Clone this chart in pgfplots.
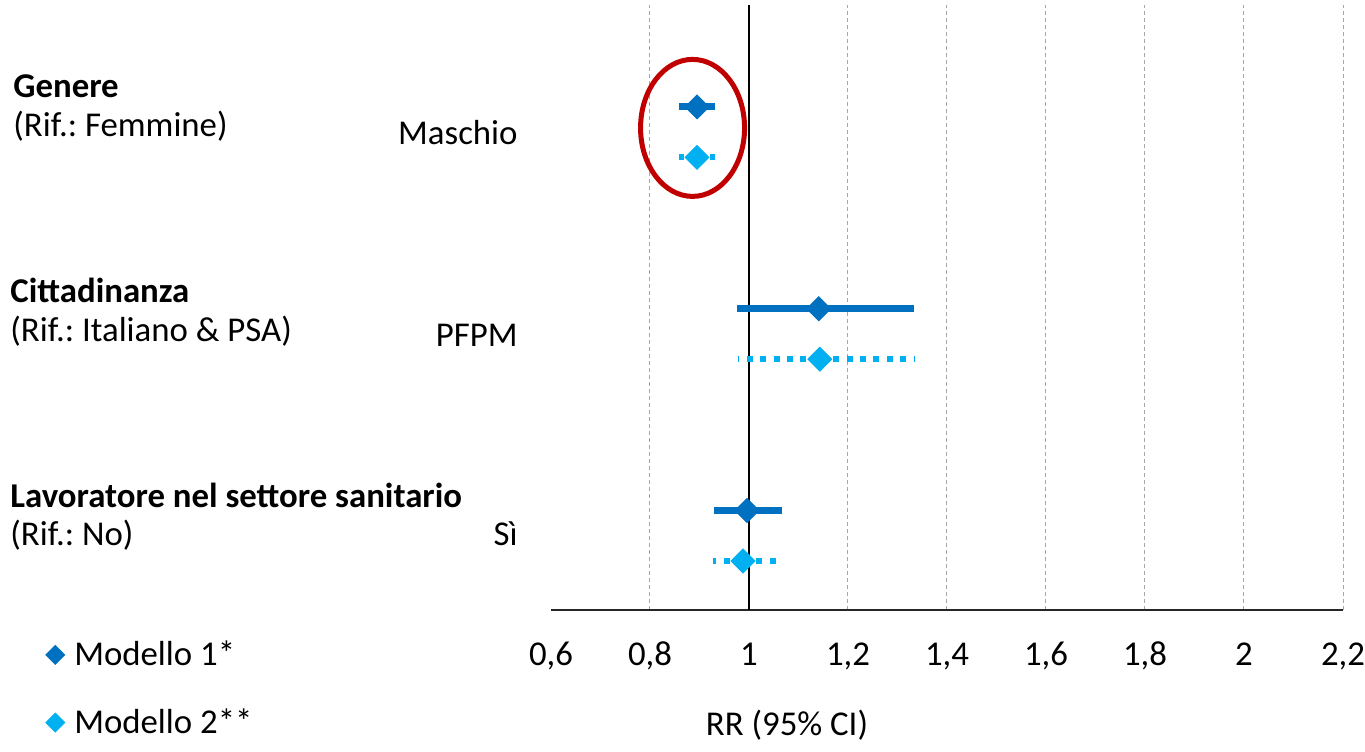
\documentclass[border=0pt]{standalone}
\usepackage{fontspec}
\setmainfont{Carlito}
\usepackage{pgfplots}
\pgfplotsset{compat=1.18}
\definecolor{mone}{HTML}{0070C0}
\definecolor{mtwo}{HTML}{00B0F0}
\definecolor{ered}{HTML}{C00000}
\definecolor{grd}{HTML}{A6A6A6}
\frenchspacing
\newcommand{\fs}{\fontsize{17.4}{20.8}\selectfont}
\begin{document}
\begin{tikzpicture}[font=\fs]
\useasboundingbox (-275.5pt,-70.5pt) rectangle (407pt,305pt);
\begin{axis}[
  at={(0pt,0pt)}, anchor=south west,
  scale only axis, width=396pt, height=302.5pt,
  xmin=0.6, xmax=2.2, ymin=0.028, ymax=12.02,
  axis x line=bottom, axis y line=none,
  x axis line style={-, black!85, line width=0.75pt},
  xtick={0.8,1.2,1.4,1.6,1.8,2,2.2},
  extra x ticks={0.6,1},
  extra x tick style={grid=none},
  xmajorgrids,
  major grid style={grd, line width=0.5pt, dash pattern=on 2.2pt off 1.3pt},
  major tick length=0pt,
  ytick=\empty,
  xticklabel style={anchor=base, yshift=-27.5pt, font=\fs},
  legend style={draw=none, fill=none, inner sep=0pt, at={(-0.6383,-0.0506)}, anchor=north west,
    row sep=20pt, column sep=4.75pt, nodes={inner sep=0pt}, font=\fs},
  legend cell align=left,
  legend image code/.code={\draw[#1] plot coordinates {(0pt,0pt)};},
  clip=false,
  /pgf/number format/use comma,
  /pgf/number format/assume math mode=true,
]
\addlegendimage{only marks, mark=square*, mark size=3.35pt, mark options={rotate=45, mone, fill=mone}}
\addlegendentry{Modello 1*}
\addlegendimage{only marks, mark=square*, mark size=3.35pt, mark options={rotate=45, mtwo, fill=mtwo}}
\addlegendentry{Modello 2**}

\draw[black, line width=0.75pt] (axis cs:1,0.028) -- (axis cs:1,12.02);

% Modello 1
\addplot[forget plot, only marks, mark=square*, mark size=4.25pt,
  mark options={rotate=45, mone, fill=mone},
  error bars/.cd, x dir=both, x explicit, error mark=none,
  error bar style={line width=3.5pt, mone}]
  coordinates {
    (0.895,10) += (0.036,0) -= (0.036,0)
    (1.141,6)  += (0.192,0) -= (0.165,0)
    (0.996,2)  += (0.071,0) -= (0.067,0)
  };
% Modello 2
\addplot[forget plot, only marks, mark=square*, mark size=4.25pt,
  mark options={rotate=45, mtwo, fill=mtwo},
  error bars/.cd, x dir=both, x explicit, error mark=none,
  error bar style={line width=3pt, mtwo, dash pattern=on 3pt off 3.7pt}]
  coordinates {
    (0.895,9) += (0.036,0) -= (0.036,0)
    (1.143,5) += (0.192,0) -= (0.165,0)
    (0.988,1) += (0.073,0) -= (0.061,0)
  };

\draw[ered, line width=2.5pt] (axis cs:0.886,9.584) ellipse [x radius=26pt, y radius=34.25pt];
\end{axis}

\node[anchor=base west, inner sep=0pt, font=\fs\bfseries] at (-269pt,256.5pt) {Genere};
\node[anchor=base west, inner sep=0pt] at (-269pt,237pt) {(Rif.: Femmine)};
\node[anchor=base east, inner sep=0pt] at (-16.5pt,233pt) {Maschio};
\node[anchor=base west, inner sep=0pt, font=\fs\bfseries] at (-270.5pt,154pt) {Cittadinanza};
\node[anchor=base west, inner sep=0pt] at (-270.5pt,134.5pt) {(Rif.: Italiano \& PSA)};
\node[anchor=base east, inner sep=0pt] at (-16.5pt,132pt) {PFPM};
\node[anchor=base west, inner sep=0pt, font=\fs\bfseries] at (-270.5pt,51.5pt) {Lavoratore nel settore sanitario};
\node[anchor=base west, inner sep=0pt] at (-270.5pt,32.5pt) {(Rif.: No)};
\node[anchor=base east, inner sep=0pt] at (-16.5pt,32.5pt) {Sì};
\node[anchor=base, inner sep=0pt] at (118pt,-62.5pt) {RR (95\% CI)};
\end{tikzpicture}
\end{document}
